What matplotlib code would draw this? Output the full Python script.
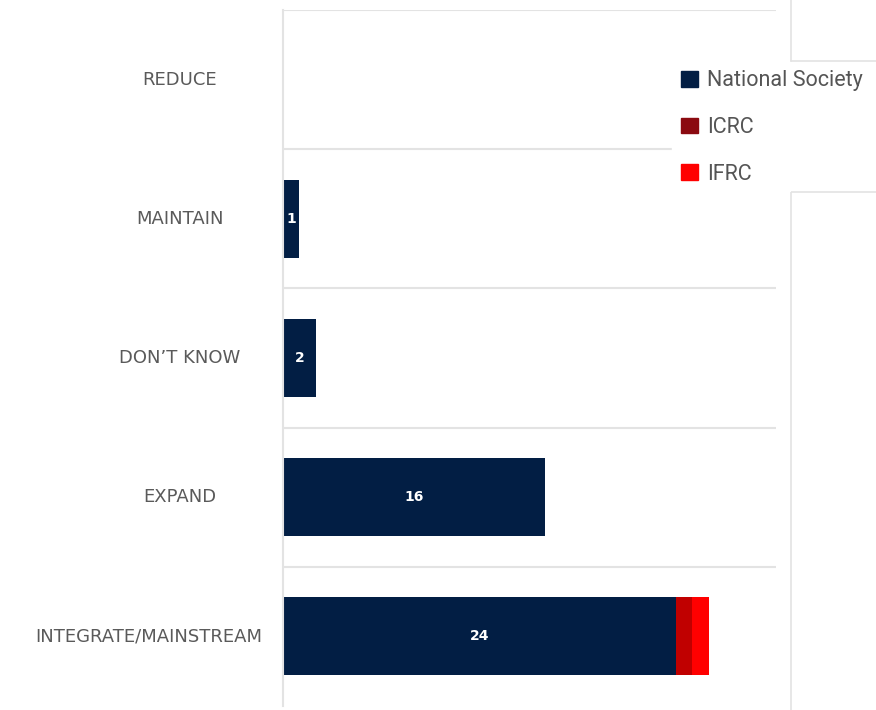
import numpy as np
import matplotlib.pyplot as plt
from matplotlib.patches import Patch
from matplotlib.lines import Line2D

categories = ["REDUCE", "MAINTAIN", "DON\u2019T KNOW", "EXPAND", "INTEGRATE/MAINSTREAM"]
national_society = [0, 1, 2, 16, 24]
icrc = [0, 0, 0, 0, 1]
ifrc = [0, 0, 0, 0, 1]
series_names = ["National Society", "ICRC", "IFRC"]

navy = "#021e44"
bar_red = "#c00000"
legend_red = "#8b0a10"
bright_red = "#ff0000"
grid_col = "#e3e3e3"
W, H = 876, 710

fig = plt.figure(figsize=(8.76, 7.10), dpi=100)
ax = fig.add_axes([283/W, 4/H, (776-283)/W, (700-4)/H])

y = np.arange(len(categories))
ns = np.array(national_society)
ic = np.array(icrc)
ifr = np.array(ifrc)
h = 0.56
ax.barh(y, ns, height=h, color=navy)
ax.barh(y, ic, left=ns, height=h, color=bar_red)
ax.barh(y, ifr, left=ns + ic, height=h, color=bright_red)

for yi, v in zip(y, ns):
    if v > 0:
        ax.text(v / 2, yi, str(v), ha="center", va="center", color="white",
                fontsize=10, fontweight="semibold")

ax.set_xlim(0, 30.1)
ax.set_ylim(len(categories) - 0.5, -0.5)
ax.set_xticks([])
ax.set_yticks([])
for s in ["top", "right", "bottom"]:
    ax.spines[s].set_visible(False)
ax.spines["left"].set_color(grid_col)
ax.spines["left"].set_linewidth(1.5)

# row separators
for b in np.arange(-0.5, len(categories) - 0.5, 1.0):
    ax.axhline(b, color=grid_col, lw=1.5, zorder=0)

# category labels: centred around x=180px, but kept clear of the axis
renderer = fig.canvas.get_renderer()
for yi, c in zip(y, categories):
    t = fig.text(0, 0, c, ha="center", va="center", color="#5a5a5a", fontsize=13)
    w = t.get_window_extent(renderer).width
    cx = min(180, 262 - w / 2)
    yy = ax.transData.transform((0, yi))[1]
    t.set_position((cx / W, yy / H))

# pasted legend panel
fig.add_artist(Line2D([791/W, 791/W], [1, 1 - 61/H], color=grid_col, lw=1.2))
fig.add_artist(Line2D([791/W, 791/W], [1 - 192/H, 0], color=grid_col, lw=1.2))
fig.add_artist(Line2D([791/W, 1], [1 - 61/H, 1 - 61/H], color=grid_col, lw=1.2))
fig.add_artist(Line2D([791/W, 1], [1 - 192/H, 1 - 192/H], color=grid_col, lw=1.2))
fig.patches.append(plt.Rectangle((672/W, 1 - 191/H), (790 - 672)/W, 129/H,
                                 transform=fig.transFigure, color="white", zorder=3))

handles = [Patch(color=navy), Patch(color=legend_red), Patch(color=bright_red)]
leg = fig.legend(handles, series_names, loc="upper left",
                 bbox_to_anchor=(662/W, 1 - 51/H), frameon=False,
                 prop={"family": ["Roboto", "DejaVu Sans"], "size": 15.5},
                 handlelength=0.75, handleheight=0.75, handletextpad=0.45,
                 labelspacing=1.19, labelcolor="#555555")
leg.set_zorder(5)

fig.savefig("out.png", dpi=100, facecolor="white")
